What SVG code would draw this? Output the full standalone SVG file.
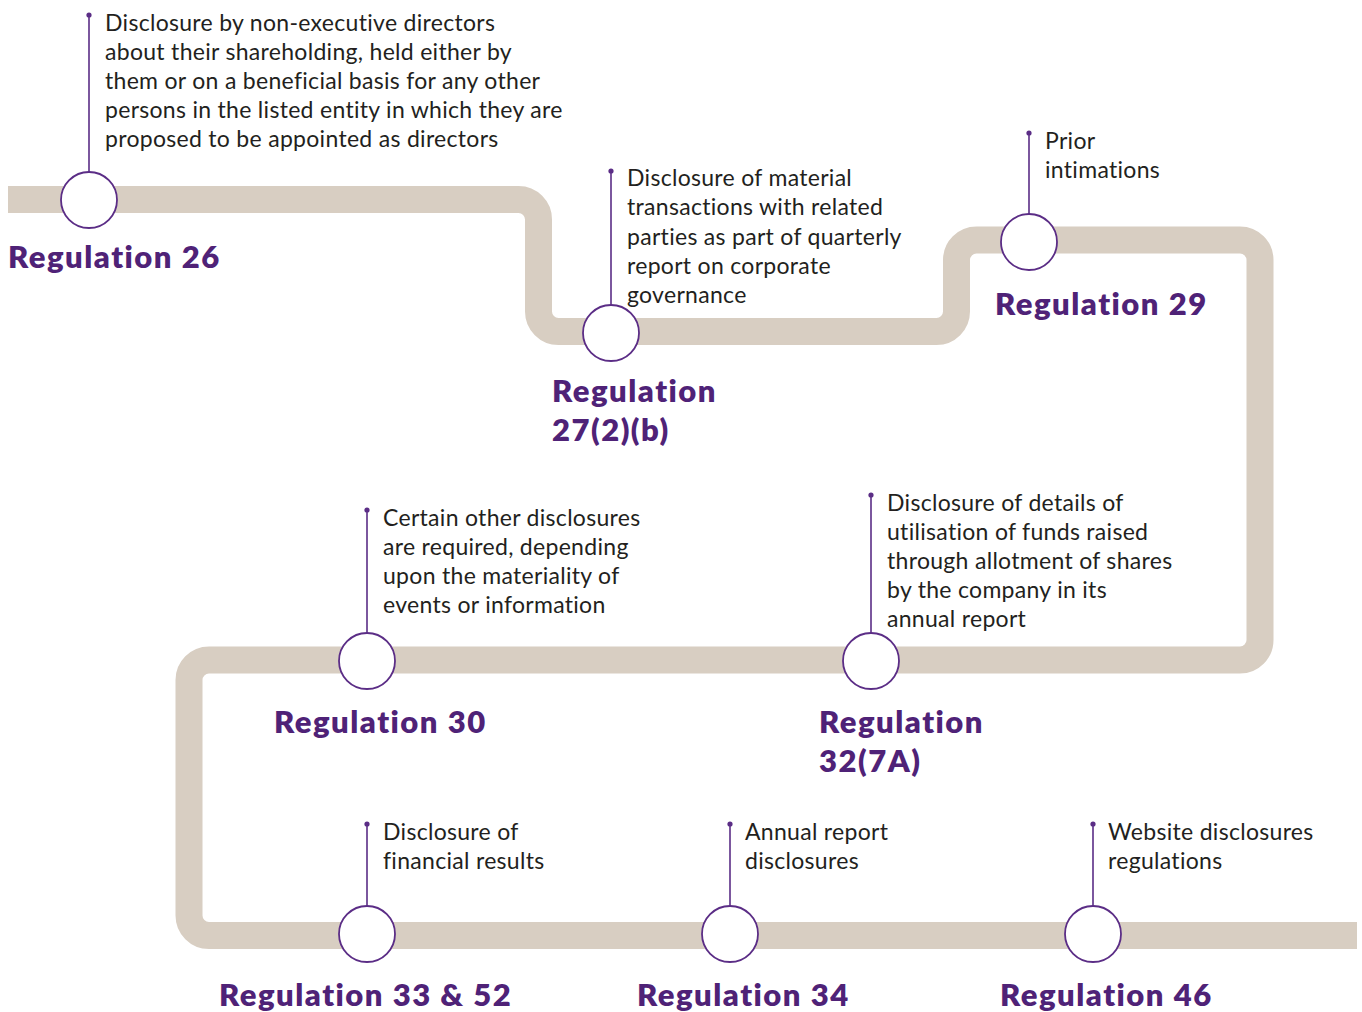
<svg xmlns="http://www.w3.org/2000/svg" width="1362" height="1012" viewBox="0 0 1362 1012">
<style>
.band{fill:none;stroke:#d8cec2;stroke-width:27;stroke-linecap:butt}
.stem{stroke:#5b2d86;stroke-width:1.6;fill:none}
.dot{fill:#5b2d86}
.ring{fill:#fff;stroke:#5b2d86;stroke-width:1.8}
.body{font-family:Lato,"Liberation Sans",sans-serif;font-size:23px;letter-spacing:0.3px;fill:#231f20}
.head{font-family:Lato,"Liberation Sans",sans-serif;font-size:31px;font-weight:800;letter-spacing:1.5px;fill:#4f2277}
</style>
<rect width="1362" height="1012" fill="#fff"/>
<g id="connectors">
<path class="band" d="M8,199.5 H518.5 A20,20 0 0 1 538.5,219.5 V311.5 A20,20 0 0 0 558.5,331.5 H936.5 A20,20 0 0 0 956.5,311.5 V260 A20,20 0 0 1 976.5,240 H1240 A20,20 0 0 1 1260,260 V640 A20,20 0 0 1 1240,660 H209 A20,20 0 0 0 189,680 V915.5 A20,20 0 0 0 209,935.5 H1357"/>
</g>
<g id="reg26">
<line class="stem" x1="89" y1="15" x2="89" y2="172"/><circle class="dot" cx="89" cy="15" r="2.6"/>
<circle class="ring" cx="89" cy="200" r="28"/>
<text class="body"><tspan x="105" y="31">Disclosure by non-executive directors</tspan><tspan x="105" y="60">about their shareholding, held either by</tspan><tspan x="105" y="89">them or on a beneficial basis for any other</tspan><tspan x="105" y="118">persons in the listed entity in which they are</tspan><tspan x="105" y="147">proposed to be appointed as directors</tspan></text>
<text class="head" x="8" y="268">Regulation 26</text>
</g>
<g id="reg27">
<line class="stem" x1="611" y1="171" x2="611" y2="305"/><circle class="dot" cx="611" cy="171" r="2.6"/>
<circle class="ring" cx="611" cy="333" r="28"/>
<text class="body"><tspan x="627" y="186">Disclosure of material</tspan><tspan x="627" y="215">transactions with related</tspan><tspan x="627" y="245">parties as part of quarterly</tspan><tspan x="627" y="274">report on corporate</tspan><tspan x="627" y="303">governance</tspan></text>
<text class="head"><tspan x="552" y="402">Regulation</tspan><tspan x="552" y="441">27(2)(b)</tspan></text>
</g>
<g id="reg29">
<line class="stem" x1="1029" y1="133" x2="1029" y2="214"/><circle class="dot" cx="1029" cy="133" r="2.6"/>
<circle class="ring" cx="1029" cy="242" r="28"/>
<text class="body"><tspan x="1045" y="149">Prior</tspan><tspan x="1045" y="178">intimations</tspan></text>
<text class="head" x="995" y="315">Regulation 29</text>
</g>
<g id="reg30">
<line class="stem" x1="367" y1="510" x2="367" y2="633"/><circle class="dot" cx="367" cy="510" r="2.6"/>
<circle class="ring" cx="367" cy="661" r="28"/>
<text class="body"><tspan x="383" y="526">Certain other disclosures</tspan><tspan x="383" y="555">are required, depending</tspan><tspan x="383" y="584">upon the materiality of</tspan><tspan x="383" y="613">events or information</tspan></text>
<text class="head" x="274" y="733">Regulation 30</text>
</g>
<g id="reg32">
<line class="stem" x1="871" y1="495" x2="871" y2="633"/><circle class="dot" cx="871" cy="495" r="2.6"/>
<circle class="ring" cx="871" cy="661" r="28"/>
<text class="body"><tspan x="887" y="511">Disclosure of details of</tspan><tspan x="887" y="540">utilisation of funds raised</tspan><tspan x="887" y="569">through allotment of shares</tspan><tspan x="887" y="598">by the company in its</tspan><tspan x="887" y="627">annual report</tspan></text>
<text class="head"><tspan x="819" y="733">Regulation</tspan><tspan x="819" y="772">32(7A)</tspan></text>
</g>
<g id="reg33">
<line class="stem" x1="367" y1="824" x2="367" y2="906"/><circle class="dot" cx="367" cy="824" r="2.6"/>
<circle class="ring" cx="367" cy="934" r="28"/>
<text class="body"><tspan x="383" y="840">Disclosure of</tspan><tspan x="383" y="869">financial results</tspan></text>
<text class="head" x="219" y="1006">Regulation 33 &amp; 52</text>
</g>
<g id="reg34">
<line class="stem" x1="730" y1="824" x2="730" y2="906"/><circle class="dot" cx="730" cy="824" r="2.6"/>
<circle class="ring" cx="730" cy="934" r="28"/>
<text class="body"><tspan x="745" y="840">Annual report</tspan><tspan x="745" y="869">disclosures</tspan></text>
<text class="head" x="637" y="1006">Regulation 34</text>
</g>
<g id="reg46">
<line class="stem" x1="1093" y1="824" x2="1093" y2="906"/><circle class="dot" cx="1093" cy="824" r="2.6"/>
<circle class="ring" cx="1093" cy="934" r="28"/>
<text class="body"><tspan x="1108" y="840">Website disclosures</tspan><tspan x="1108" y="869">regulations</tspan></text>
<text class="head" x="1000" y="1006">Regulation 46</text>
</g>
</svg>
